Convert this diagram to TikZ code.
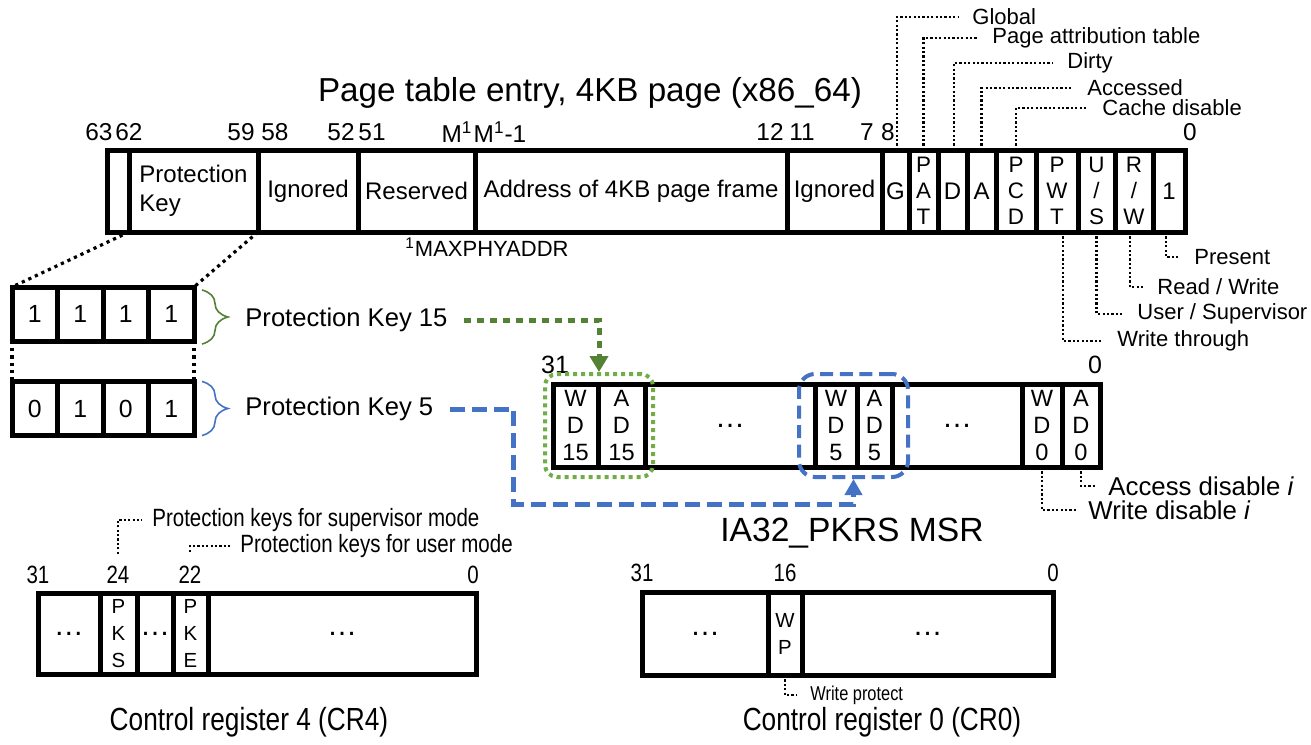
\documentclass[tikz,border=0pt]{standalone}
\usepackage{fontspec}
\setmainfont{Liberation Sans}
\newfontfamily\narrowfont[FakeStretch=0.82]{Liberation Sans}
\usetikzlibrary{positioning,fit,arrows.meta,decorations.pathreplacing}
\definecolor{pkgreen}{HTML}{548235}
\definecolor{boxgreen}{HTML}{70AD47}
\definecolor{pkblue}{HTML}{4472C4}
\tikzset{
  field/.style={draw, line width=2.5pt, inner sep=0pt, outer sep=0pt, align=center},
  pte/.style={field, minimum height=41pt},
  msr/.style={field, minimum height=41.5pt},
  creg/.style={field, minimum height=41pt},
  word/.style={font=\fontsize{12}{14.4}\selectfont},
  gap/.style={font=\fontsize{15}{16}\selectfont},
  stack/.style={font=\fontsize{11.2}{13}\selectfont},
  msrbit/.style={font=\fontsize{11.8}{13.4}\selectfont},
  crbit/.style={font=\fontsize{10.2}{13.5}\selectfont},
  bitnum/.style={font=\fontsize{12.2}{14}\selectfont, inner sep=1pt},
  crnum/.style={font=\narrowfont\fontsize{12.5}{14}\selectfont, inner sep=1pt},
  title/.style={font=\fontsize{16.6}{20}\selectfont},
  crtitle/.style={font=\narrowfont\fontsize{16}{20}\selectfont},
  leader/.style={line width=1.1pt, dash pattern=on 1.1pt off 1.1pt},
  zoomline/.style={line width=1.6pt, dash pattern=on 1.6pt off 2pt},
  tag/.style={font=\fontsize{11}{13}\selectfont, inner xsep=7pt, inner ysep=1pt, anchor=west},
  keytag/.style={font=\fontsize{12.8}{15}\selectfont, inner xsep=8pt, inner ysep=1pt, anchor=west},
  msrtag/.style={font=\fontsize{12.9}{15}\selectfont, inner xsep=5.5pt, inner ysep=1pt, anchor=west},
  crtag/.style={font=\narrowfont\fontsize{12.5}{15}\selectfont, inner xsep=5pt, inner ysep=1pt, anchor=west},
  keycell/.style={field, minimum width=22.75pt, minimum height=27pt, font=\fontsize{12.4}{14}\selectfont},
  gbrace/.style={pkgreen, line width=0.8pt, decorate, decoration={brace, amplitude=13pt}},
  bbrace/.style={pkblue, line width=0.8pt, decorate, decoration={brace, amplitude=13pt}},
  gframe/.style={draw=boxgreen, line width=2pt, dash pattern=on 2pt off 2pt, rounded corners=6pt, inner xsep=4pt, inner ysep=5pt},
  bframe/.style={draw=pkblue, line width=2pt, dash pattern=on 6.5pt off 3.3pt, rounded corners=8pt, inner xsep=8pt, inner ysep=5pt},
  garrow/.style={pkgreen, line width=2.5pt, dash pattern=on 3.5pt off 3pt, -{Triangle[width=9pt,length=8pt]}},
  barrow/.style={pkblue, line width=2.5pt, dash pattern=on 7.5pt off 3.5pt, -{Triangle[width=8.5pt,length=8pt]}}
}
\begin{document}
\begin{tikzpicture}[x=0.5pt, y=-0.5pt]
  \useasboundingbox (0,0) rectangle (1311,744);

  % page table entry
  \node (ttl) [title] at (590,93) {Page table entry, 4KB page (x86\_64)};
  \node (f63) [pte, minimum width=11pt, anchor=west] at (107,191) {};
  \node (pk) [pte, word, align=left, minimum width=64.5pt, right=0pt of f63] {Protection\\Key};
  \node (ign1) [pte, word, minimum width=50pt, right=0pt of pk] {Ignored};
  \node (rsv) [pte, word, minimum width=58.5pt, right=0pt of ign1] {Reserved};
  \node (addr) [pte, word, minimum width=156pt, right=0pt of rsv] {Address of 4KB page frame};
  \node (ign2) [pte, word, minimum width=47.5pt, right=0pt of addr] {Ignored};
  \node (g) [pte, word, minimum width=13.5pt, right=0pt of ign2] {G};
  \node (pat) [pte, stack, minimum width=14.5pt, right=0pt of g] {P\\A\\T};
  \node (d) [pte, word, minimum width=14.5pt, right=0pt of pat] {D};
  \node (a) [pte, word, minimum width=14.5pt, right=0pt of d] {A};
  \node (pcd) [pte, stack, minimum width=20pt, right=0pt of a] {P\\C\\D};
  \node (pwt) [pte, stack, minimum width=21pt, right=0pt of pcd] {P\\W\\T};
  \node (us) [pte, stack, minimum width=18.5pt, right=0pt of pwt] {U\\/\\S};
  \node (rw) [pte, stack, minimum width=19pt, right=0pt of us] {R\\/\\W};
  \node (pres) [pte, word, minimum width=16pt, right=0pt of rw] {1};

  \node (n63) [bitnum] at (99,132) {63};
  \node (n62) [bitnum] at (129,132) {62};
  \node (n59) [bitnum] at (241,132) {59};
  \node (n58) [bitnum] at (275,132) {58};
  \node (n52) [bitnum] at (341,132) {52};
  \node (n51) [bitnum] at (372,132) {51};
  \node (nm) [bitnum] at (457,132) {M\textsuperscript{1}};
  \node (nm1) [bitnum] at (500,132) {M\textsuperscript{1}-1};
  \node (n12) [bitnum] at (770,132) {12};
  \node (n11) [bitnum] at (802,132) {11};
  \node (n7) [bitnum] at (867,132) {7};
  \node (n8) [bitnum] at (888,132) {8};
  \node (n0) [bitnum] at (1190,132) {0};
  \node (maxphy) [font=\fontsize{11}{13}\selectfont, inner sep=0pt, anchor=west] at (405,247) {\textsuperscript{1}MAXPHYADDR};

  \node (tglob) [tag] at (958,17) {Global};
  \node (tpat) [tag] at (978,38) {Page attribution table};
  \node (tdirty) [tag] at (1053,63) {Dirty};
  \node (tacc) [tag] at (1073,88) {Accessed};
  \node (tcache) [tag] at (1088,108) {Cache disable};
  \draw[leader] ([xshift=0.75pt]g.north) |- (tglob.west);
  \draw[leader] (pat.north) |- (tpat.west);
  \draw[leader] ([xshift=0.75pt]d.north) |- (tdirty.west);
  \draw[leader] (a.north) |- (tacc.west);
  \draw[leader] (pcd.north) |- (tcache.west);

  \node (tpres) [tag] at (1180,257) {Present};
  \node (trw) [tag] at (1143,287) {Read / Write};
  \node (tus) [tag] at (1123,314) {User / Supervisor};
  \node (twt) [tag] at (1103,341) {Write through};
  \draw[leader] ([xshift=-1.5pt]pres.south) |- (tpres.west);
  \draw[leader] ([xshift=-2pt]rw.south) |- (trw.west);
  \draw[leader] (us.south) |- (tus.west);
  \draw[leader] ([xshift=3pt]pwt.south) |- (twt.west);

  % protection keys
  \foreach \b [count=\i] in {1,1,1,1}
    \node (kf\i) [keycell] at ({-10.75+45.5*\i},314) {\b};
  \foreach \b [count=\i] in {0,1,0,1}
    \node (kv\i) [keycell] at ({-10.75+45.5*\i},408.5) {\b};
  \draw[zoomline] (pk.south west) -- (kf1.north west);
  \draw[zoomline] (pk.south east) -- (kf4.north east);
  \draw[zoomline] (kf1.south west) -- (kv1.north west);
  \draw[zoomline] (kf4.south east) -- (kv4.north east);
  \draw[gbrace] ([xshift=4pt,yshift=-1.5pt]kf4.north east) -- ([xshift=4pt,yshift=-1.5pt]kf4.south east);
  \draw[bbrace] ([xshift=4pt]kv4.north east) -- ([xshift=4pt]kv4.south east);
  \node (pkf) [keytag] at (229,320) {Protection Key 15};
  \node (pkv) [keytag] at (229,409) {Protection Key 5};

  % IA32_PKRS MSR
  \node (m31) [bitnum, font=\fontsize{12.5}{14}\selectfont] at (555,365) {31};
  \node (m0) [bitnum, font=\fontsize{12.5}{14}\selectfont] at (1095,365) {0};
  \node (wd15) [msr, msrbit, minimum width=22.5pt, anchor=west] at (553,425.5) {W\\D\\15};
  \node (ad15) [msr, msrbit, minimum width=23.5pt, right=0pt of wd15] {A\\D\\15};
  \node (mdots1) [msr, gap, minimum width=85pt, right=0pt of ad15] {…};
  \node (wd5) [msr, msrbit, minimum width=21pt, right=0pt of mdots1] {W\\D\\5};
  \node (ad5) [msr, msrbit, minimum width=17.5pt, right=0pt of wd5] {A\\D\\5};
  \node (mdots2) [msr, gap, minimum width=65pt, right=0pt of ad5] {…};
  \node (wd0) [msr, msrbit, minimum width=20pt, right=0pt of mdots2] {W\\D\\0};
  \node (ad0) [msr, msrbit, minimum width=19pt, right=0pt of wd0] {A\\D\\0};
  \node (grnbox) [gframe, fit=(wd15)(ad15)] {};
  \node (bluebox) [bframe, fit=(wd5)(ad5)] {};
  \node (msrname) [title, font=\fontsize{16.8}{20}\selectfont] at (852,533) {IA32\_PKRS MSR};
  \draw[garrow] (pkf.east) -| (grnbox.north);
  \draw[barrow] (pkv.east) -- ++(64,0) -- ++(0,95) -| (bluebox.south);

  \node (tad) [msrtag] at (1097,486) {Access disable \textit{i}};
  \node (twd) [msrtag] at (1077,510) {Write disable \textit{i}};
  \draw[leader] (ad0.south) |- (tad.west);
  \draw[leader] (wd0.south) |- (twd.west);

  % control register 4
  \node (c31) [crnum] at (38,575) {31};
  \node (c24) [crnum] at (118,575) {24};
  \node (c22) [crnum] at (190,575) {22};
  \node (c0) [crnum] at (473,575) {0};
  \node (c4a) [creg, gap, minimum width=31pt, minimum height=40.5pt, anchor=west] at (38,633.5) {…};
  \node (pks) [creg, crbit, minimum width=18.5pt, minimum height=40.5pt, right=0pt of c4a] {P\\K\\S};
  \node (c4b) [creg, gap, minimum width=18pt, minimum height=40.5pt, right=0pt of pks] {…};
  \node (pke) [creg, crbit, minimum width=17.5pt, minimum height=40.5pt, right=0pt of c4b] {P\\K\\E};
  \node (c4c) [creg, gap, minimum width=134pt, minimum height=40.5pt, right=0pt of pke] {…};
  \node (tsup) [crtag] at (142,520) {Protection keys for supervisor mode};
  \node (tuser) [crtag] at (230,546) {Protection keys for user mode};
  \draw[leader, shorten <=5pt] (c24.north) |- (tsup.west);
  \draw[leader, shorten <=6pt] (c22.north) |- (tuser.west);
  \node (cr4name) [crtitle] at (249,722) {Control register 4 (CR4)};

  % control register 0
  \node (d31) [crnum] at (642,573) {31};
  \node (d16) [crnum] at (785,573) {16};
  \node (d0) [crnum] at (1053,573) {0};
  \node (c0a) [creg, gap, minimum width=63pt, minimum height=41.5pt, anchor=west] at (642,633.5) {…};
  \node (wp) [creg, crbit, minimum width=17pt, minimum height=41.5pt, right=0pt of c0a] {W\\P};
  \node (c0b) [creg, gap, minimum width=125.5pt, minimum height=41.5pt, right=0pt of wp] {…};
  \node (twp) [crtag, font=\narrowfont\fontsize{10}{12}\selectfont, inner xsep=6.5pt] at (797,695) {Write protect};
  \draw[leader] (wp.south) |- (twp.west);
  \node (cr0name) [crtitle] at (882,722) {Control register 0 (CR0)};
\end{tikzpicture}
\end{document}
